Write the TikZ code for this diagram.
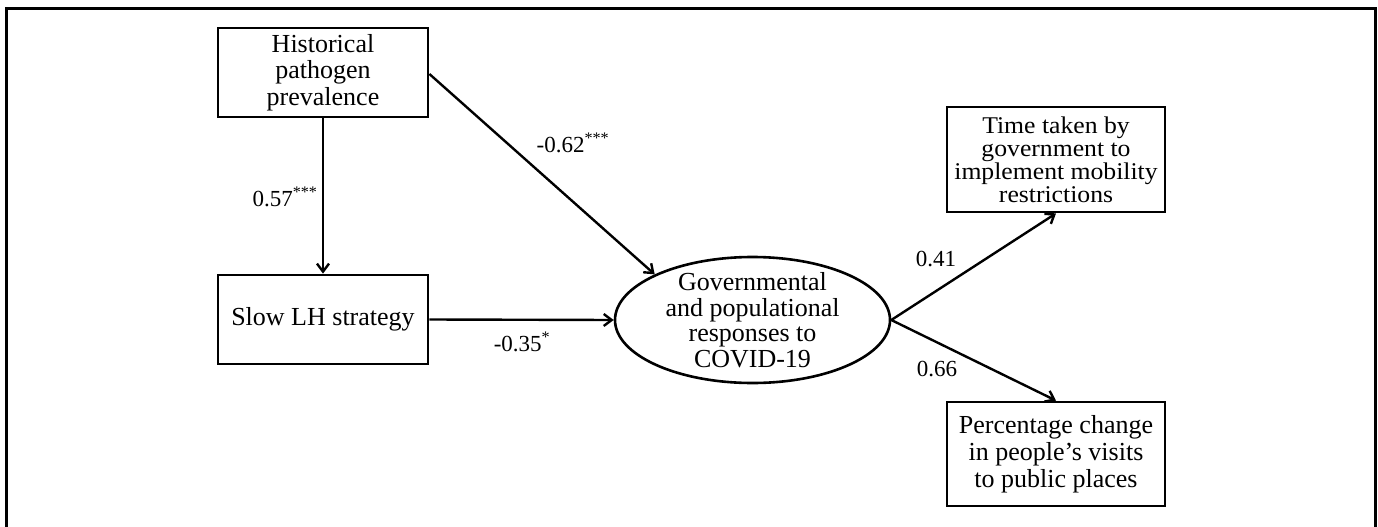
\documentclass[tikz,border=0pt]{standalone}
\usepackage{fontspec}
\setmainfont{Liberation Serif}
\usetikzlibrary{arrows.meta,shapes.geometric}
\begin{document}
\begin{tikzpicture}[x=1pt,y=-1pt,
  box/.style={draw,line width=2.8pt,rectangle,inner sep=0pt,align=center,font=\fontsize{26}{26.5}\selectfont},
  conn/.style={line width=2.4pt,-{Straight Barb[length=8pt,width=12pt]}},
  lbl/.style={inner sep=0pt,font=\fontsize{23}{23}\selectfont}]
\useasboundingbox (0,0) rectangle (1378,527);
\draw[line width=3pt] (6,530) -- (6,9) -- (1375,9) -- (1375,530);

\node[box,minimum width=210pt,minimum height=89pt] (h) at (323,72.5) {Historical\\pathogen\\prevalence};
\node[box,minimum width=210pt,minimum height=89pt] (s) at (323,319.5) {Slow LH strategy};
\node[ellipse,draw,line width=2.6pt,minimum width=275pt,minimum height=126pt,inner sep=0pt,
  label={[align=center,inner sep=0pt,font=\fontsize{26}{25.5}\selectfont]center:{Governmental\\and populational\\responses to\\COVID-19}}] (g) at (752.5,320) {};
\node[box,minimum width=218pt,minimum height=105pt,font=\fontsize{24}{23}\selectfont\addfontfeature{FakeStretch=1.07}] (t) at (1056,159.5) {Time taken by\\government to\\implement mobility\\restrictions};
\node[box,minimum width=218pt,minimum height=104pt,font=\fontsize{26}{27}\selectfont] (p) at (1056,454) {Percentage change\\in people’s visits\\to public places};

\draw[conn] (h.south) -- (s.north);
\draw[conn] ([yshift=-1.5pt]h.east) -- (g.155);
\draw[conn] (s.east) -- (g.west);
\draw[conn] (g.east) -- (t.south);
\draw[conn] (g.east) -- (p.north);

\node[lbl] (l1) at (285,197) {0.57\textsuperscript{***}};
\node[lbl] (l2) at (573,143) {-0.62\textsuperscript{***}};
\node[lbl] (l3) at (522,342) {-0.35\textsuperscript{*}};
\node[lbl] (l4) at (936,259) {0.41};
\node[lbl] (l5) at (937,369) {0.66};
\end{tikzpicture}
\end{document}
